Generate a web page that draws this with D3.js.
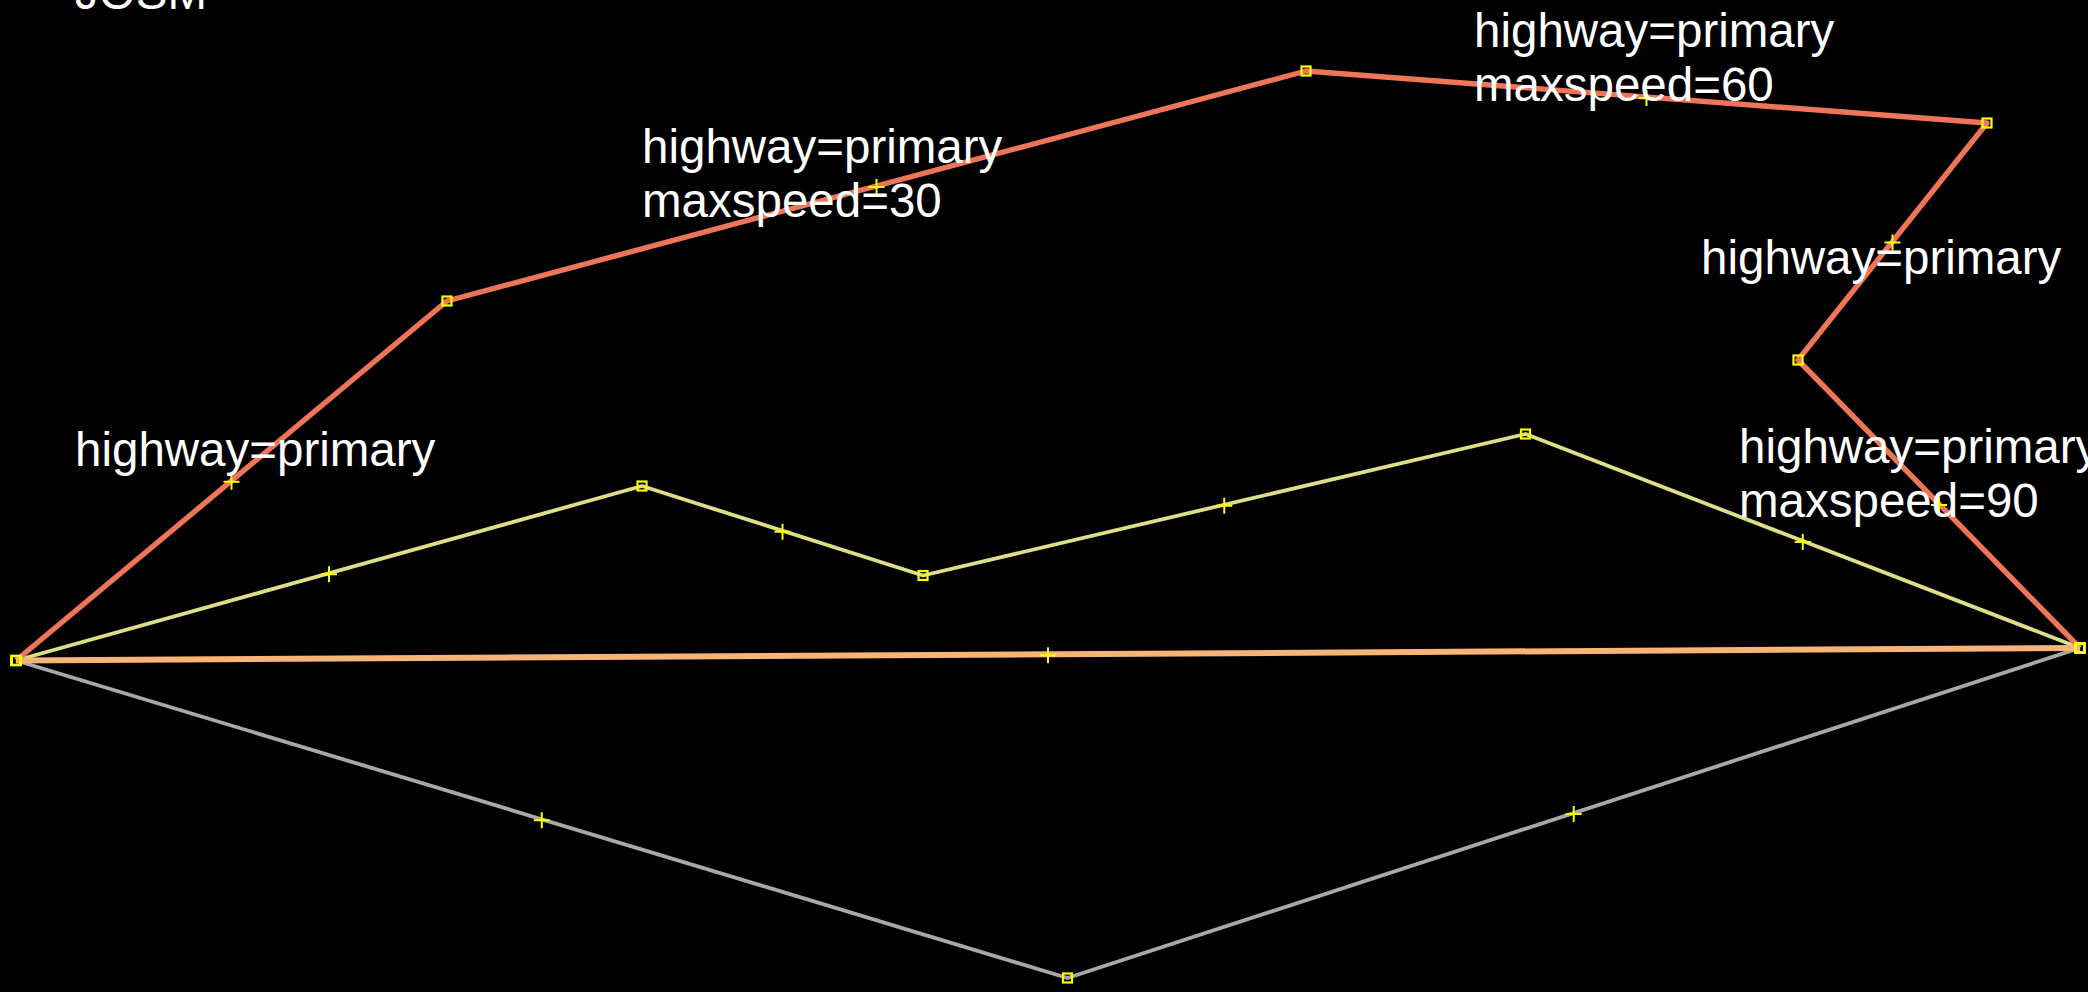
<!DOCTYPE html>
<html>
<head>
<meta charset="utf-8">
<script src="https://cdn.jsdelivr.net/npm/d3@7"></script>
<style>
  html, body { margin: 0; padding: 0; background: #000; overflow: hidden; }
  svg { display: block; }
  text { font-family: "Liberation Sans", Arial, sans-serif; font-size: 47.5px; fill: #fff; }
</style>
</head>
<body>
<svg id="chart" width="2088" height="992"></svg>
<script>
// way geometry (image units)
const redWayX = [16, 447, 1306, 1987, 1798, 2080];
const redWayY = [660.5, 301, 71, 123, 360, 648];
const yellowWayX = [16, 642, 923, 1525.5, 2080];
const yellowWayY = [660.5, 486, 575.5, 434, 648];
const orangeWayX = [16, 2080];
const orangeWayY = [660.5, 648];
const greyWayX = [16, 1067.5, 2080];
const greyWayY = [660.5, 978, 648];

const wayNames = ["grey", "yellow", "red", "orange"];
const wayColors = ["#a8a8a8", "#dede88", "#ee7458", "#f8b474"];
const wayWidths = [3.8, 3.8, 5.4, 6];

const labelLines = [
  ["JOSM"],
  ["highway=primary"],
  ["highway=primary", "maxspeed=30"],
  ["highway=primary", "maxspeed=60"],
  ["highway=primary"],
  ["highway=primary", "maxspeed=90"]
];
const labelX = [75, 75, 642, 1474, 1701, 1739];
const labelY = [9, 466, 163, 47, 274, 463];

const width = 2088, height = 992;
const x = d3.scaleLinear().domain([0, 2088]).range([0, width]);
const y = d3.scaleLinear().domain([0, 992]).range([0, height]);

const toPoints = (xs, ys) => xs.map((d, i) => [d, ys[i]]);
const ways = {
  grey: toPoints(greyWayX, greyWayY),
  yellow: toPoints(yellowWayX, yellowWayY),
  red: toPoints(redWayX, redWayY),
  orange: toPoints(orangeWayX, orangeWayY)
};

const svg = d3.select("#chart");
svg.append("rect").attr("width", width).attr("height", height).attr("fill", "#000");

// slight blur, the reference is an upscaled screenshot
const filter = svg.append("defs").append("filter").attr("id", "soft");
filter.append("feGaussianBlur").attr("stdDeviation", 0.7);

const line = d3.line().x(d => x(d[0])).y(d => y(d[1]));

const content = svg.append("g").attr("filter", "url(#soft)");

content.append("g")
  .selectAll("path")
  .data(wayNames)
  .join("path")
  .attr("fill", "none")
  .attr("stroke-linejoin", "round")
  .attr("stroke", (d, i) => wayColors[i])
  .attr("stroke-width", (d, i) => wayWidths[i])
  .attr("d", d => line(ways[d]));

// nodes, small hollow squares
const nodes = wayNames.flatMap(d => ways[d]);
content.append("g")
  .selectAll("rect")
  .data(nodes)
  .join("rect")
  .attr("x", d => x(d[0]) - 4.5)
  .attr("y", d => y(d[1]) - 4.5)
  .attr("width", 9)
  .attr("height", 9)
  .attr("fill", "none")
  .attr("stroke", "#ffff00")
  .attr("stroke-width", 2.2);

// virtual nodes, a plus on the middle of every segment
const middles = wayNames.flatMap(d => d3.pairs(ways[d], (a, b) => [(a[0] + b[0]) / 2, (a[1] + b[1]) / 2]));
content.append("g")
  .selectAll("path")
  .data(middles)
  .join("path")
  .attr("fill", "none")
  .attr("stroke", "#ffff00")
  .attr("stroke-width", 2)
  .attr("d", d => `M${x(d[0]) - 8},${y(d[1]) + 1}h16M${x(d[0])},${y(d[1]) - 7}v16`);

const labels = svg.append("g")
  .selectAll("text")
  .data(labelLines)
  .join("text")
  .attr("transform", (d, i) => `translate(${labelX[i]},${labelY[i]})`);

labels.selectAll("tspan")
  .data(d => d)
  .join("tspan")
  .attr("x", 0)
  .attr("y", (d, i) => i * 54)
  .text(d => d);
</script>
</body>
</html>
